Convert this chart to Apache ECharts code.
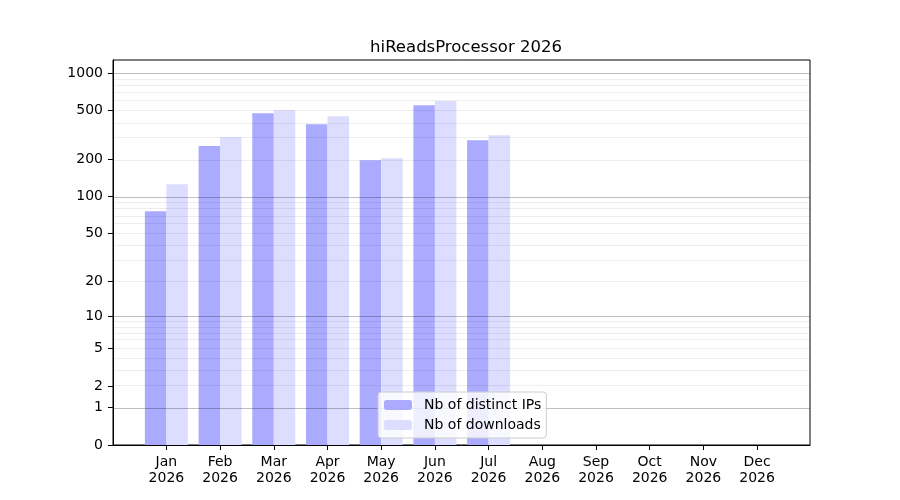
<!DOCTYPE html>
<html>
<head>
<meta charset="utf-8">
<script src="https://cdn.jsdelivr.net/npm/echarts@6/dist/echarts.min.js"></script>
<style>
  html, body { margin: 0; padding: 0; background: #fff; }
  #chart { width: 900px; height: 500px; }
</style>
</head>
<body>
<div id="chart"></div>
<script>
// monthly values
var months = ['Jan', 'Feb', 'Mar', 'Apr', 'May', 'Jun', 'Jul', 'Aug', 'Sep', 'Oct', 'Nov', 'Dec'];
var year = '2026';
var distinctIPs = [76, 258, 475, 387, 198, 551, 287, 0, 0, 0, 0, 0];
var downloads = [126, 304, 502, 449, 205, 597, 315, 0, 0, 0, 0, 0];
var yTicks = [0, 1, 2, 5, 10, 20, 50, 100, 200, 500, 1000];
var majorGrid = [1, 10, 100, 1000];
var minorGrid = [2, 3, 4, 5, 6, 7, 8, 9, 20, 30, 40, 50, 60, 70, 80, 90, 200, 300, 400, 500, 600, 700, 800, 900];

// y scale is log10(1 + v)
function tr(v) { return Math.log10(1 + v); }
function untr(t) { return Math.round(Math.pow(10, t) - 1); }

var font = 'DejaVu Sans';

function barData(vals, shift) {
    return vals.map(function (v, i) { return [i + shift, tr(v)]; });
}

var gridLines = [];
majorGrid.forEach(function (v) {
    gridLines.push({ yAxis: tr(v), lineStyle: { color: 'rgba(0,0,0,0.25)' } });
});
minorGrid.forEach(function (v) {
    gridLines.push({ yAxis: tr(v), lineStyle: { color: 'rgba(0,0,0,0.07)' } });
});

var myChart = echarts.init(document.getElementById('chart'));

var option = {
    animation: false,
    backgroundColor: '#fff',
    title: {
        text: 'hiReadsProcessor ' + year,
        left: 461,
        top: 34,
        textAlign: 'center',
        textStyle: { fontFamily: font, fontSize: 16.5, fontWeight: 'normal', color: '#000' }
    },
    legend: {
        orient: 'vertical',
        left: 378,
        top: 392,
        padding: [5, 5, 5, 6],
        itemWidth: 28,
        itemHeight: 10,
        itemGap: 4,
        backgroundColor: 'rgba(255,255,255,0.8)',
        borderColor: '#cccccc',
        borderWidth: 1,
        borderRadius: 3,
        z: 10,
        textStyle: { fontFamily: font, fontSize: 14, color: '#000', padding: [0, 0, 0, 7], lineHeight: 16 },
        data: ['Nb of distinct IPs', 'Nb of downloads']
    },
    grid: {
        left: 113,
        right: 90,
        top: 60,
        bottom: 55,
        show: true,
        borderColor: '#000',
        borderWidth: 1
    },
    xAxis: {
        type: 'value',
        min: -0.994,
        max: 11.985,
        splitLine: { show: false },
        axisLine: { show: true, onZero: false, lineStyle: { color: '#000' } },
        axisTick: {
            show: true, inside: false, length: 5,
            lineStyle: { color: '#000' },
            customValues: months.map(function (m, i) { return i; })
        },
        axisLabel: {
            show: true,
            margin: 9,
            fontFamily: font,
            fontSize: 14,
            lineHeight: 16,
            color: '#000',
            customValues: months.map(function (m, i) { return i; }),
            formatter: function (v) { return months[Math.round(v)] + '\n' + year; }
        }
    },
    yAxis: {
        type: 'value',
        min: 0,
        max: 3.107,
        splitLine: { show: false },
        axisLine: { show: true, onZero: false, lineStyle: { color: '#000' } },
        axisTick: {
            show: true, inside: false, length: 5,
            lineStyle: { color: '#000' },
            customValues: yTicks.map(tr)
        },
        axisLabel: {
            show: true,
            margin: 10,
            fontFamily: font,
            fontSize: 14,
            color: '#000',
            customValues: yTicks.map(tr),
            formatter: function (v) { return String(untr(v)); }
        }
    },
    series: [
        {
            name: 'Nb of distinct IPs',
            type: 'bar',
            barWidth: 21.5,
            barGap: '-100%',
            itemStyle: { color: '#aaaaff' },
            data: barData(distinctIPs, -0.2)
        },
        {
            name: 'Nb of downloads',
            type: 'bar',
            barWidth: 21.5,
            barGap: '-100%',
            itemStyle: { color: '#ddddff' },
            data: barData(downloads, 0.2),
            markLine: {
                silent: true,
                symbol: 'none',
                label: { show: false },
                lineStyle: { type: 'solid', width: 1 },
                data: gridLines
            }
        }
    ]
};

myChart.setOption(option);
</script>
</body>
</html>
